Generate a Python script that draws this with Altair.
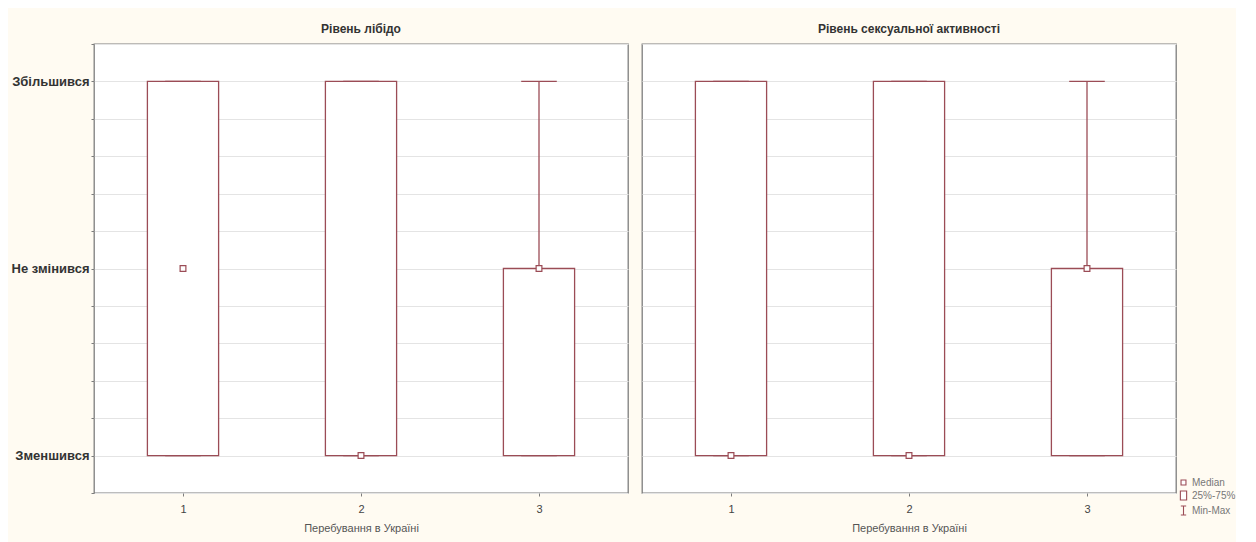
import altair as alt
import pandas as pd

# ---- data ----
groups = [1, 2, 3]
panel_titles = ["Рівень лібідо", "Рівень сексуальної активності"]
y_tick_values = [0.8, 1.0, 1.2, 1.4, 1.6, 1.8, 2.0, 2.2, 2.4, 2.6, 2.8, 3.0, 3.2]
y_labels = {1: "Зменшився", 2: "Не змінився", 3: "Збільшився"}
x_title = "Перебування в Україні"

libido_median = [2, 1, 2]
libido_q1 = [1, 1, 1]
libido_q3 = [3, 3, 2]
libido_min = [1, 1, 1]
libido_max = [3, 3, 3]

activity_median = [1, 1, 2]
activity_q1 = [1, 1, 1]
activity_q3 = [3, 3, 2]
activity_min = [1, 1, 1]
activity_max = [3, 3, 3]

legend_items = ["Median", "25%-75%", "Min-Max"]
legend_shapes = [
    "M-0.55,-0.55H0.55V0.55H-0.55Z",
    "M-0.7,-1H0.7V1H-0.7Z",
    "M-0.6,-1H0.6M0,-1V1M-0.6,1H0.6",
]

BOX = "#9b4c56"
FRAME = "#7d7d7d"
FONT = "Liberation Sans"
BOX_HALF = 0.2
CAP_HALF = 0.1


def make_df(med, q1, q3, mn, mx):
    return pd.DataFrame({
        "group": groups, "median": med, "q1": q1, "q3": q3,
        "min": mn, "max": mx, "item": ["Median"] * len(groups),
    })


label_expr = ("datum.value == 3 ? '" + y_labels[3] + "' : datum.value == 2 ? '"
              + y_labels[2] + "' : datum.value == 1 ? '" + y_labels[1] + "' : ''")


def make_legend():
    return alt.Legend(orient="none", legendX=1084, legendY=433,
                      padding=0, offset=0, title=None,
                      labelFont=FONT, labelFontSize=10, labelColor="#777",
                      symbolSize=80, symbolStrokeWidth=1.1,
                      rowPadding=0, labelOffset=3)


def panel(title, df, first):
    xscale = alt.Scale(domain=[0.5, 3.5], nice=False, zero=False)
    yscale = alt.Scale(domain=[0.8, 3.2], nice=False, zero=False)
    xaxis = alt.Axis(values=groups, title=x_title, grid=False, domain=False,
                     ticks=True, tickSize=3, tickColor=FRAME, labelPadding=7,
                     labelFontSize=11, labelColor="#444", labelFont=FONT,
                     titleFont=FONT, titleFontSize=11, titleFontWeight="normal",
                     titleColor="#555", titlePadding=8, labelAngle=0)
    if first:
        yaxis = alt.Axis(values=y_tick_values, labelExpr=label_expr, title=None,
                         grid=True, gridColor="#e4e4e4", domain=False,
                         ticks=True, tickSize=3, tickColor=FRAME, labelPadding=2,
                         labelFont=FONT, labelFontSize=13, labelFontWeight="bold",
                         labelColor="#333", labelLimit=100,
                         minExtent=80, maxExtent=80)
    else:
        yaxis = alt.Axis(values=y_tick_values, labels=False, title=None,
                         grid=True, gridColor="#e4e4e4", domain=False,
                         ticks=False, minExtent=0, maxExtent=0)

    def X(field):
        return alt.X(field, scale=xscale, axis=xaxis, title=x_title)

    def Y(field):
        return alt.Y(field, scale=yscale, axis=yaxis, title=None)

    base = alt.Chart(df).transform_calculate(
        x_lo=f"datum.group - {BOX_HALF}", x_hi=f"datum.group + {BOX_HALF}",
        c_lo=f"datum.group - {CAP_HALF}", c_hi=f"datum.group + {CAP_HALF}",
    )
    boxes = base.mark_rect(fill="white", stroke=BOX, strokeWidth=1.3).encode(
        x=X("x_lo:Q"), x2="x_hi:Q", y=Y("q1:Q"), y2="q3:Q",
    )
    whisk_up = base.mark_rule(color=BOX, strokeWidth=1.3).encode(
        x=X("group:Q"), y=Y("q3:Q"), y2="max:Q",
    )
    whisk_dn = base.mark_rule(color=BOX, strokeWidth=1.3).encode(
        x=X("group:Q"), y=Y("min:Q"), y2="q1:Q",
    )
    cap_up = base.mark_rule(color=BOX, strokeWidth=1.3).encode(
        x=X("c_lo:Q"), x2="c_hi:Q", y=Y("max:Q"),
    )
    cap_dn = base.mark_rule(color=BOX, strokeWidth=1.3).encode(
        x=X("c_lo:Q"), x2="c_hi:Q", y=Y("min:Q"),
    )
    medians = base.mark_point(filled=False, fill="white", strokeWidth=1.2,
                              opacity=1, size=110).encode(
        x=X("group:Q"), y=Y("median:Q"),
        color=alt.Color("item:N",
                        scale=alt.Scale(domain=legend_items, range=[BOX, BOX, BOX]),
                        legend=make_legend()),
        shape=alt.Shape("item:N",
                        scale=alt.Scale(domain=legend_items, range=legend_shapes),
                        legend=make_legend()),
    )
    layer = alt.layer(boxes, whisk_up, whisk_dn, cap_up, cap_dn, medians).properties(
        width=534, height=449,
        title=alt.TitleParams(title, fontSize=12, fontWeight="bold", font=FONT,
                              color="#333", offset=8, anchor="middle"),
    )
    return layer


left = panel(panel_titles[0], make_df(libido_median, libido_q1, libido_q3,
                                      libido_min, libido_max), True)
right = panel(panel_titles[1], make_df(activity_median, activity_q1, activity_q3,
                                       activity_min, activity_max), False)

chart = alt.hconcat(left, right, spacing=12).properties(
    background="#fffbf2",
    padding={"left": 2, "top": 13, "right": 0, "bottom": 12},
).configure_view(
    fill="white", stroke=FRAME, strokeWidth=1.3,
)

chart.save("out.html", embed_options={"renderer": "svg", "actions": False})
